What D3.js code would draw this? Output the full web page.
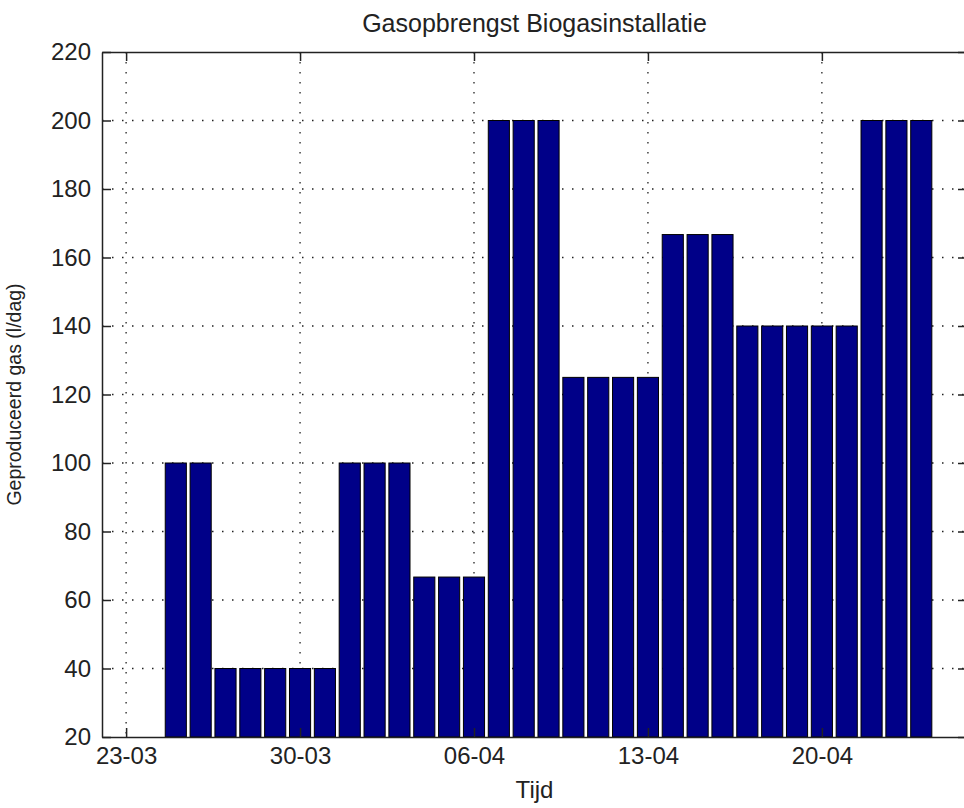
<!DOCTYPE html>
<html>
<head>
<meta charset="utf-8">
<script src="https://cdn.jsdelivr.net/npm/d3@7"></script>
<style>
  body { margin: 0; background: #fff; }
  text { font-family: "Liberation Sans", Arial, sans-serif; fill: #222; }
</style>
</head>
<body>
<svg id="chart" width="964" height="808"></svg>
<script>
// days (dd-mm, 2013) and gas output in l/dag
const days = ["25-03", "26-03", "27-03", "28-03", "29-03", "30-03", "31-03",
    "01-04", "02-04", "03-04", "04-04", "05-04", "06-04", "07-04", "08-04", "09-04",
    "10-04", "11-04", "12-04", "13-04", "14-04", "15-04", "16-04", "17-04", "18-04",
    "19-04", "20-04", "21-04", "22-04", "23-04", "24-04"];
const gas = [100, 100, 40, 40, 40, 40, 40,
    100, 100, 100, 66.7, 66.7, 66.7, 200, 200, 200,
    125, 125, 125, 125, 166.7, 166.7, 166.7, 140, 140,
    140, 140, 140, 200, 200, 200];
const xTickLabels = ["23-03", "30-03", "06-04", "13-04", "20-04"];
const yTicks = [20, 40, 60, 80, 100, 120, 140, 160, 180, 200, 220];

const parseDay = s => d3.utcParse("%d-%m-%Y")(s + "-2013");
const fmt = d3.utcFormat("%d-%m");

const width = 964, height = 808;
const margin = { top: 52, right: -3, bottom: 71, left: 102 };
const svg = d3.select("#chart");

const x = d3.scaleUtc()
    .domain([new Date(Date.UTC(2013, 2, 22, 0, 43)), new Date(Date.UTC(2013, 3, 25, 20, 10))])
    .range([margin.left, width - margin.right]);
const y = d3.scaleLinear()
    .domain([20, 220])
    .range([height - margin.bottom, margin.top]);

const dayW = x(parseDay("24-03")) - x(parseDay("23-03"));
const barW = dayW * 0.85;

// grid
const grid = svg.append("g").attr("stroke", "#222").attr("stroke-width", 1.3)
    .attr("stroke-dasharray", "1.5,8.5");
grid.selectAll(".gy")
    .data(yTicks.slice(1, -1))
    .enter().append("line")
    .attr("x1", margin.left).attr("x2", width - margin.right)
    .attr("y1", d => y(d)).attr("y2", d => y(d));
grid.selectAll(".gx")
    .data(xTickLabels)
    .enter().append("line")
    .attr("x1", d => x(parseDay(d))).attr("x2", d => x(parseDay(d)))
    .attr("y1", y(220)).attr("y2", y(20));

// bars
svg.append("g").selectAll("rect")
    .data(days.map((d, i) => ({ day: parseDay(d), v: gas[i] })))
    .enter().append("rect")
    .attr("x", d => x(d.day) - barW / 2)
    .attr("width", barW)
    .attr("y", d => y(d.v))
    .attr("height", d => y(20) - y(d.v))
    .attr("fill", "#000088")
    .attr("stroke", "#000")
    .attr("stroke-width", 1);

// axes (MATLAB style box with inward ticks)
const tick = 9;
const xAxis = d3.axisBottom(x)
    .tickValues(xTickLabels.map(parseDay))
    .tickFormat(fmt)
    .tickSizeInner(-tick).tickSizeOuter(0).tickPadding(tick + 1);
const yAxis = d3.axisLeft(y)
    .tickValues(yTicks)
    .tickSizeInner(-tick).tickSizeOuter(0).tickPadding(tick + 2);

svg.append("g")
    .attr("transform", `translate(0,${y(20)})`)
    .call(xAxis);
svg.append("g")
    .attr("transform", `translate(${margin.left},0)`)
    .call(yAxis);
svg.append("g")
    .attr("transform", `translate(0,${y(220)})`)
    .call(d3.axisTop(x).tickValues(xTickLabels.map(parseDay)).tickSizeInner(-tick).tickSizeOuter(0).tickFormat(""));
svg.append("g")
    .attr("transform", `translate(${width - margin.right},0)`)
    .call(d3.axisRight(y).tickValues(yTicks).tickSizeInner(-tick).tickSizeOuter(0).tickFormat(""));

svg.selectAll(".domain, .tick line").attr("stroke", "#222").attr("stroke-width", 1.5);
svg.selectAll(".tick text")
    .attr("font-size", 24).attr("fill", "#222")
    .attr("font-family", null).style("font-family", "inherit");

// labels
svg.append("text")
    .attr("x", (margin.left + width - margin.right) / 2)
    .attr("y", 32)
    .attr("text-anchor", "middle")
    .attr("font-size", 25)
    .text("Gasopbrengst Biogasinstallatie");

svg.append("text")
    .attr("x", (margin.left + width - margin.right) / 2)
    .attr("y", 798)
    .attr("text-anchor", "middle")
    .attr("font-size", 24)
    .text("Tijd");

svg.append("text")
    .attr("transform", `translate(21,${(y(20) + y(220)) / 2}) rotate(-90)`)
    .attr("text-anchor", "middle")
    .attr("font-size", 19.5)
    .text("Geproduceerd gas (l/dag)");
</script>
</body>
</html>
